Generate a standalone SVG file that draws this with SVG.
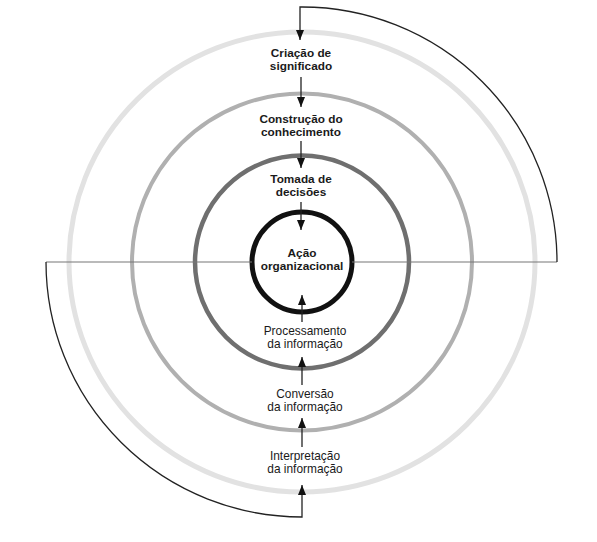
<svg xmlns="http://www.w3.org/2000/svg" width="597" height="542" viewBox="0 0 597 542">
<style>
.b{font-family:"Liberation Sans",Arial,sans-serif;font-weight:bold;font-size:11.8px;fill:#1a1a1a;text-anchor:middle}
.r{font-family:"Liberation Sans",Arial,sans-serif;font-size:11.9px;fill:#1a1a1a;text-anchor:middle}
.ring{fill:none}
.arr{fill:none;stroke:#222;stroke-width:1.3}
.ax{fill:none;stroke:#777;stroke-width:1.2}
</style>
<defs>
<marker id="ah" viewBox="0 0 10 8" refX="10" refY="4" markerWidth="10" markerHeight="8" markerUnits="userSpaceOnUse" orient="auto">
<path d="M0,0 L10,4 L0,8 z" fill="#111"/>
</marker>
</defs>
<rect width="597" height="542" fill="#fff"/>
<g id="rings">
<ellipse class="ring" cx="302" cy="262" rx="233" ry="230" stroke="#e2e2e2" stroke-width="5"/>
<ellipse class="ring" cx="302" cy="262" rx="170" ry="168.5" stroke="#b0b0b0" stroke-width="4"/>
<ellipse class="ring" cx="302" cy="262" rx="107" ry="106.5" stroke="#6f6f6f" stroke-width="4.5"/>
<circle class="ring" cx="302" cy="262" r="50" stroke="#111" stroke-width="5"/>
</g>
<g id="connectors">
<line class="ax" x1="46" y1="262" x2="252" y2="262"/>
<line class="ax" x1="352" y1="262" x2="557" y2="262"/>
<path class="arr" d="M557,262 A255,255 0 0 0 302,7 L300,7 L300,40" marker-end="url(#ah)"/>
<path class="arr" d="M46,262 A256,255 0 0 0 302,517 L302,485" marker-end="url(#ah)"/>
<path class="arr" d="M301,77 L301,107" marker-end="url(#ah)"/>
<path class="arr" d="M301,141 L301,168" marker-end="url(#ah)"/>
<path class="arr" d="M301,202 L301,230" marker-end="url(#ah)"/>
<path class="arr" d="M302,322 L302,295" marker-end="url(#ah)"/>
<path class="arr" d="M302,385 L302,357" marker-end="url(#ah)"/>
<path class="arr" d="M302,447 L302,418" marker-end="url(#ah)"/>
</g>
<g id="criacao"><text class="b" x="301" y="57">Criação de</text><text class="b" x="301" y="70">significado</text></g>
<g id="construcao"><text class="b" x="301" y="123">Construção do</text><text class="b" x="301" y="136">conhecimento</text></g>
<g id="tomada"><text class="b" x="301" y="183">Tomada de</text><text class="b" x="301" y="196">decisões</text></g>
<g id="acao"><text class="b" x="302" y="257">Ação</text><text class="b" x="302" y="270">organizacional</text></g>
<g id="processamento"><text class="r" x="305" y="335">Processamento</text><text class="r" x="305" y="348">da informação</text></g>
<g id="conversao"><text class="r" x="305" y="398">Conversão</text><text class="r" x="305" y="411">da informação</text></g>
<g id="interpretacao"><text class="r" x="305" y="460">Interpretação</text><text class="r" x="305" y="473">da informação</text></g>
</svg>
